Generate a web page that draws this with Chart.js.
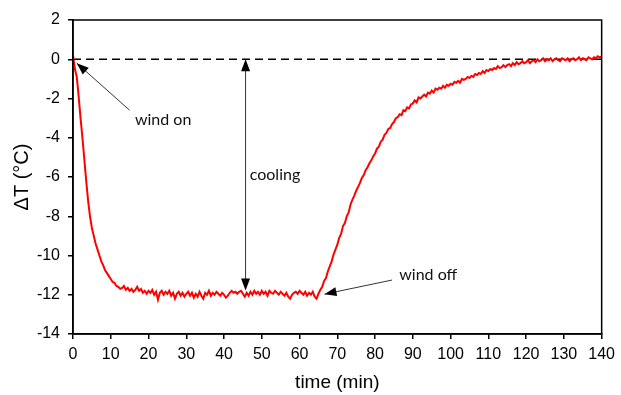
<!DOCTYPE html>
<html>
<head>
<meta charset="utf-8">
<script src="https://cdn.jsdelivr.net/npm/chart.js@4"></script>
<style>
  html, body { margin: 0; padding: 0; background: #fff; }
  #wrap { width: 621px; height: 395px; }
</style>
</head>
<body>
<div id="wrap"><canvas id="chart" width="621" height="395"></canvas></div>
<script>
// sampling interval of the logger (min)
const STEP = 0.5;

// wind on, fast cooling: t = 0 .. 14.5 min
const coolStart = 0;
const coolDown = [
  0.2, -0.5, -0.9, -1.9, -3.0, -4.0, -5.1, -6.2, -7.2, -8.0,
  -8.6, -9.0, -9.4, -9.7, -10.0, -10.3, -10.5, -10.75, -10.9, -11.05,
  -11.2, -11.35, -11.4, -11.55, -11.6, -11.7, -11.65, -11.55, -11.75, -11.65
];

// steady state with wind: t = 15 .. 64.5 min
const plateauStart = 15;
const plateau = [
  -11.8, -11.7, -11.85, -11.75, -11.6, -11.8, -11.7, -11.9, -11.8, -11.95,
  -11.8, -11.9, -11.75, -12.0, -11.85, -12.25, -11.9, -11.8, -12.0, -11.85,
  -11.95, -11.8, -12.05, -11.9, -12.2, -11.95, -11.85, -12.05, -11.9, -12.1,
  -11.95, -11.85, -12.05, -11.9, -12.15, -11.95, -12.1, -11.85, -12.05, -12.2,
  -11.9, -12.0, -11.8, -12.05, -11.9, -12.0, -11.85, -11.95, -12.05, -11.9,
  -12.0, -12.15, -12.05, -11.9, -11.8, -11.9, -11.85, -11.95, -11.85, -11.8,
  -11.95, -12.1, -11.9, -12.05, -11.85, -12.0, -11.8, -11.95, -11.85, -12.0,
  -11.8, -11.95, -11.85, -12.05, -11.8, -11.9, -11.95, -11.8, -11.9, -12.0,
  -11.85, -11.95, -12.05, -11.9, -12.1, -12.2, -12.0, -11.9, -11.85, -11.95,
  -11.8, -11.9, -12.0, -11.85, -12.05, -11.9, -12.0, -11.85, -12.1, -12.2
];

// wind off, recovery: t = 65 .. 140 min
const recoveryStart = 65;
const recovery = [
  -11.95, -11.75, -11.6, -11.3, -11.15, -10.8, -10.55, -10.3, -9.95, -9.7,
  -9.45, -9.1, -8.9, -8.5, -8.35, -8.0, -7.8, -7.4, -7.15, -6.95,
  -6.7, -6.5, -6.3, -6.05, -5.9, -5.65, -5.5, -5.3, -5.15, -4.95,
  -4.8, -4.55, -4.45, -4.2, -4.1, -3.85, -3.75, -3.55, -3.5, -3.3,
  -3.2, -3.0, -2.95, -2.8, -2.85, -2.6, -2.65, -2.45, -2.5, -2.3,
  -2.25, -2.1, -2.2, -1.95, -2.0, -1.9, -1.8, -1.9, -1.7, -1.75,
  -1.6, -1.7, -1.5, -1.55, -1.45, -1.5, -1.35, -1.45, -1.3, -1.35,
  -1.25, -1.3, -1.15, -1.2, -1.1, -1.2, -1.0, -1.05, -1.0, -0.9,
  -0.95, -0.85, -0.9, -0.75, -0.8, -0.7, -0.75, -0.6, -0.7, -0.55,
  -0.6, -0.5, -0.55, -0.45, -0.5, -0.35, -0.45, -0.4, -0.3, -0.4,
  -0.3, -0.25, -0.35, -0.2, -0.3, -0.15, -0.25, -0.2, -0.1, -0.2,
  -0.15, -0.05, -0.2, -0.1, -0.05, -0.15, 0.0, -0.1, -0.05, 0.05,
  -0.1, 0.0, -0.05, 0.05, -0.1, 0.0, 0.05, -0.05, -0.1, 0.05,
  0.0, -0.05, 0.05, -0.1, 0.0, 0.05, -0.05, 0.0, 0.1, -0.05,
  0.05, 0.0, -0.05, 0.1, 0.05, 0.0, 0.1, 0.05, 0.15, 0.1,
  0.15
];

const referenceLine = [0, 0];
const referenceTimes = [0, 140];

const xTicks = { min: 0, max: 140, step: 10 };
const yTicks = { min: -14, max: 2, step: 2 };

// annotation anchors in data units (time, dT)
const notes = [
  { text: "wind on", tx: 16.4, ty: -3.1, from: [15, -2.6], to: [1.0, -0.2] },
  { text: "cooling", tx: 46.8, ty: -5.9 },
  { text: "wind off", tx: 86.4, ty: -11.0, from: [84.5, -11.25], to: [66.6, -11.97] }
];
const coolingArrow = { t: 45.7, top: 0, bottom: -11.78 };

function toPoints(start, values) {
  return values.map((v, i) => ({ x: start + i * STEP, y: v }));
}

const series = [
  ...toPoints(coolStart, coolDown),
  ...toPoints(plateauStart, plateau),
  ...toPoints(recoveryStart, recovery)
];

function arrowHead(ctx, x1, y1, x2, y2) {
  const ang = Math.atan2(y2 - y1, x2 - x1);
  const len = 12, half = 4.5;
  ctx.beginPath();
  ctx.moveTo(x2, y2);
  ctx.lineTo(x2 - len * Math.cos(ang) + half * Math.sin(ang), y2 - len * Math.sin(ang) - half * Math.cos(ang));
  ctx.lineTo(x2 - len * Math.cos(ang) - half * Math.sin(ang), y2 - len * Math.sin(ang) + half * Math.cos(ang));
  ctx.closePath();
  ctx.fill();
}

const decorations = {
  id: "decorations",
  afterDatasetsDraw(chart) {
    const { ctx, chartArea: a, scales: { x, y } } = chart;
    ctx.save();
    // frame
    ctx.strokeStyle = "#000";
    ctx.lineWidth = 1.5;
    ctx.strokeRect(a.left, a.top, a.right - a.left, a.bottom - a.top);

    ctx.strokeStyle = "#333";
    ctx.fillStyle = "#000";
    ctx.lineWidth = 1;
    // single arrows
    notes.forEach(n => {
      if (!n.from) return;
      const x1 = x.getPixelForValue(n.from[0]), y1 = y.getPixelForValue(n.from[1]);
      const x2 = x.getPixelForValue(n.to[0]), y2 = y.getPixelForValue(n.to[1]);
      ctx.beginPath();
      ctx.moveTo(x1, y1);
      ctx.lineTo(x2, y2);
      ctx.stroke();
      arrowHead(ctx, x1, y1, x2, y2);
    });
    // double arrow for cooling
    const cx = x.getPixelForValue(coolingArrow.t);
    const ct = y.getPixelForValue(coolingArrow.top);
    const cb = y.getPixelForValue(coolingArrow.bottom);
    ctx.beginPath();
    ctx.moveTo(cx, ct + 6);
    ctx.lineTo(cx, cb - 6);
    ctx.stroke();
    arrowHead(ctx, cx, cb, cx, ct);
    arrowHead(ctx, cx, ct, cx, cb);

    // labels
    ctx.font = "16px Lato, 'Open Sans', sans-serif";
    ctx.fillStyle = "#111";
    ctx.textBaseline = "middle";
    ctx.textAlign = "left";
    notes.forEach(n => {
      ctx.fillText(n.text, x.getPixelForValue(n.tx), y.getPixelForValue(n.ty));
    });
    ctx.restore();
  }
};

const axisFont = { family: "'Liberation Sans', Arial, sans-serif", size: 16 };

new Chart(document.getElementById("chart"), {
  type: "line",
  data: {
    datasets: [
      {
        label: "ΔT",
        data: series,
        borderColor: "#ff0000",
        borderWidth: 2,
        pointRadius: 0,
        tension: 0,
        fill: false
      },
      {
        label: "zero",
        data: referenceTimes.map((t, i) => ({ x: t, y: referenceLine[i] })),
        borderColor: "#000",
        borderWidth: 1.5,
        borderDash: [8, 5],
        pointRadius: 0,
        fill: false
      }
    ]
  },
  options: {
    responsive: false,
    animation: false,
    layout: { padding: { top: 20, right: 19, left: 0, bottom: 0 } },
    plugins: { legend: { display: false }, tooltip: { enabled: false } },
    scales: {
      x: {
        type: "linear",
        min: xTicks.min,
        max: xTicks.max,
        ticks: { stepSize: xTicks.step, color: "#000", font: axisFont, padding: 6, maxRotation: 0 },
        grid: { drawOnChartArea: false, drawTicks: true, tickLength: 5, color: "#000", lineWidth: 1.5 },
        border: { display: true, color: "#000", width: 1.5 },
        title: { display: true, text: "time (min)", color: "#000",
                 font: { family: "'Liberation Sans', Arial, sans-serif", size: 19 }, padding: { top: 0, bottom: 1 } },
        afterFit(scale) { scale.height = 61; }
      },
      y: {
        min: yTicks.min,
        max: yTicks.max,
        ticks: { stepSize: yTicks.step, color: "#000", font: axisFont, padding: 8 },
        grid: { drawOnChartArea: false, drawTicks: true, tickLength: 5, color: "#000", lineWidth: 1.5 },
        border: { display: true, color: "#000", width: 1.5 },
        title: { display: true, text: "ΔT (°C)", color: "#000",
                 font: { family: "'Liberation Sans', Arial, sans-serif", size: 20 }, padding: { top: 10, bottom: 0 } },
        afterFit(scale) { scale.width = 73; }
      }
    }
  },
  plugins: [decorations]
});
</script>
</body>
</html>
